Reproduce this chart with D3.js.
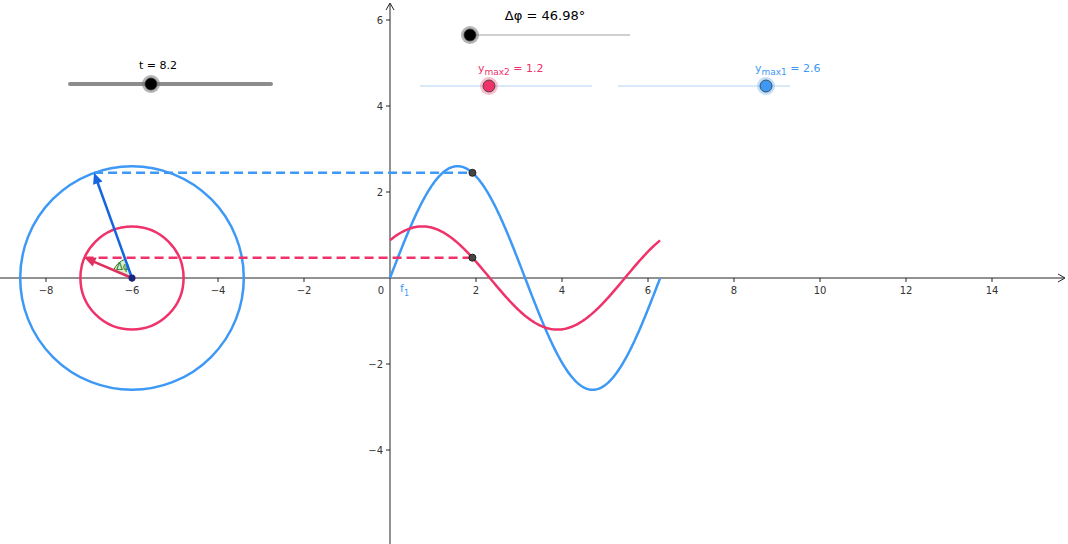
<!DOCTYPE html><html><head><meta charset="utf-8">
<script src="https://cdn.jsdelivr.net/npm/d3@7"></script>
<style>body{margin:0;background:#fff}svg{display:block;font-family:"DejaVu Sans",sans-serif}</style></head><body>
<svg id="c" width="1068" height="544"></svg>
<script>
// parameters
const tValue = [8.2];
const amplitudes = [2.6, 1.2];          // y_max1 (blue), y_max2 (red)
const phaseDeg = [46.98];               // Δφ
const seriesColors = ["#3d99f5","#f0326a"];
const xTicks = [-8,-6,-4,-2,2,4,6,8,10,12,14];
const yTicks = [-4,-2,2,4,6];
const circleCenter = [-6, 0];

const svg = d3.select("#c");
const x = d3.scaleLinear().domain([0,1]).range([390,433]);
const y = d3.scaleLinear().domain([0,1]).range([278,235]);
const dphi = phaseDeg[0]*Math.PI/180;
const ang = tValue[0] % (2*Math.PI);
const phases=[0,dphi];

// axes
const ax="#252525";
svg.append("line").attr("x1",0).attr("x2",1064).attr("y1",y(0)).attr("y2",y(0)).attr("stroke",ax);
svg.append("path").attr("d",`M1058,${y(0)-4}L1065,${y(0)}L1058,${y(0)+4}`).attr("fill","none").attr("stroke",ax);
svg.append("line").attr("x1",x(0)).attr("x2",x(0)).attr("y1",4).attr("y2",544).attr("stroke",ax);
svg.append("path").attr("d",`M${x(0)-4},10L${x(0)},3L${x(0)+4},10`).attr("fill","none").attr("stroke",ax);
xTicks.forEach(v=>{
  svg.append("line").attr("x1",x(v)).attr("x2",x(v)).attr("y1",y(0)).attr("y2",y(0)+4).attr("stroke",ax);
  svg.append("text").attr("x",x(v)).attr("y",y(0)+16).attr("text-anchor","middle").attr("font-size",10).attr("fill","#333").text(v<0?"\u2212"+(-v):v);
});
svg.append("text").attr("x",x(0)-6).attr("y",y(0)+16).attr("text-anchor","end").attr("font-size",10).attr("fill","#333").text("0");
yTicks.forEach(v=>{
  svg.append("line").attr("x1",x(0)-4).attr("x2",x(0)).attr("y1",y(v)).attr("y2",y(v)).attr("stroke",ax);
  svg.append("text").attr("x",x(0)-7).attr("y",y(v)+4).attr("text-anchor","end").attr("font-size",10).attr("fill","#333").text(v<0?"\u2212"+(-v):v);
});

// curves
const xs=d3.range(0,2*Math.PI+0.001,0.02);
amplitudes.forEach((A,i)=>{
  const line=d3.line().x(d=>x(d)).y(d=>y(A*Math.sin(d+phases[i])));
  svg.append("path").attr("d",line(xs)).attr("fill","none").attr("stroke",seriesColors[i]).attr("stroke-width",2.5);
  svg.append("circle").attr("cx",x(circleCenter[0])).attr("cy",y(0)).attr("r",x(A)-x(0)).attr("fill","none").attr("stroke",seriesColors[i]).attr("stroke-width",2.5);
});
svg.append("text").attr("x",400).attr("y",292).attr("font-size",11).attr("fill","#3d99f5").text("f").append("tspan").attr("font-size",8).attr("dy",4).text("1");

// angle wedge
const cx=x(circleCenter[0]), cy=y(0), rr=20;
const a1=ang, a2=ang+dphi;
svg.append("path").attr("d",`M${cx},${cy}L${cx+rr*Math.cos(a1)},${cy-rr*Math.sin(a1)}A${rr},${rr} 0 0 0 ${cx+rr*Math.cos(a2)},${cy-rr*Math.sin(a2)}Z`)
  .attr("fill","#cfe8c6").attr("fill-opacity",0.8).attr("stroke","#2a7a2a");
svg.append("text").attr("x",cx-16).attr("y",cy-8).attr("font-size",10).attr("fill","#2a7a2a").text("Δφ");

// vectors and dashed lines
amplitudes.forEach((A,i)=>{
  const a=ang+phases[i];
  const tx=circleCenter[0]+A*Math.cos(a), ty=A*Math.sin(a);
  const px=ang, py=A*Math.sin(ang+phases[i]);
  svg.append("line").attr("x1",x(tx)).attr("x2",x(px)).attr("y1",y(ty)).attr("y2",y(py)).attr("stroke",seriesColors[i]).attr("stroke-width",2.5).attr("stroke-dasharray","9,5");
  const c=i?"#e03060":"#1565e0";
  const X1=cx,Y1=cy,X2=x(tx),Y2=y(ty);
  const th=Math.atan2(Y2-Y1,X2-X1);
  svg.append("line").attr("x1",X1).attr("y1",Y1).attr("x2",X2-6*Math.cos(th)).attr("y2",Y2-6*Math.sin(th)).attr("stroke",c).attr("stroke-width",2.5);
  svg.append("path").attr("d",`M${X2},${Y2}L${X2-11*Math.cos(th)+5*Math.sin(th)},${Y2-11*Math.sin(th)-5*Math.cos(th)}L${X2-11*Math.cos(th)-5*Math.sin(th)},${Y2-11*Math.sin(th)+5*Math.cos(th)}Z`).attr("fill",c);
  svg.append("circle").attr("cx",x(px)).attr("cy",y(py)).attr("r",3.5).attr("fill","#444").attr("stroke","#222");
});
svg.append("circle").attr("cx",cx).attr("cy",cy).attr("r",3.5).attr("fill","#1a237e");

// sliders
function knob(px,py,fill,halo){
  svg.append("circle").attr("cx",px).attr("cy",py).attr("r",9).attr("fill",halo).attr("opacity",0.55);
  svg.append("circle").attr("cx",px).attr("cy",py).attr("r",6).attr("fill",fill).attr("stroke","#333").attr("stroke-width",0.8);
}
svg.append("line").attr("x1",70).attr("x2",271).attr("y1",84).attr("y2",84).attr("stroke","#8c8c8c").attr("stroke-width",4).attr("stroke-linecap","round");
knob(151,84,"#000","#777");
svg.append("text").attr("x",158).attr("y",69).attr("text-anchor","middle").attr("font-size",11).text("t = "+tValue[0]);

svg.append("line").attr("x1",470).attr("x2",630).attr("y1",35).attr("y2",35).attr("stroke","#888").attr("stroke-width",0.8);
knob(470,35,"#000","#777");
svg.append("text").attr("x",545).attr("y",20).attr("text-anchor","middle").attr("font-size",13).text("Δ\u03C6 = "+phaseDeg[0]+"°");

svg.append("line").attr("x1",420).attr("x2",592).attr("y1",86).attr("y2",86).attr("stroke","#9cc9ee").attr("stroke-width",0.8);
knob(489,86,"#f0326a","#f08aa8");
const t2=svg.append("text").attr("x",478).attr("y",72).attr("font-size",11).attr("fill","#f0326a");
t2.append("tspan").text("y");t2.append("tspan").attr("font-size",9).attr("dy",3).text("max2");t2.append("tspan").attr("dy",-3).text(" = "+amplitudes[1]);

svg.append("line").attr("x1",618).attr("x2",790).attr("y1",86).attr("y2",86).attr("stroke","#9cc9ee").attr("stroke-width",0.8);
knob(766,86,"#3d99f5","#8cc4f7");
const t1=svg.append("text").attr("x",755).attr("y",72).attr("font-size",11).attr("fill","#3d99f5");
t1.append("tspan").text("y");t1.append("tspan").attr("font-size",9).attr("dy",3).text("max1");t1.append("tspan").attr("dy",-3).text(" = "+amplitudes[0]);
</script></body></html>
